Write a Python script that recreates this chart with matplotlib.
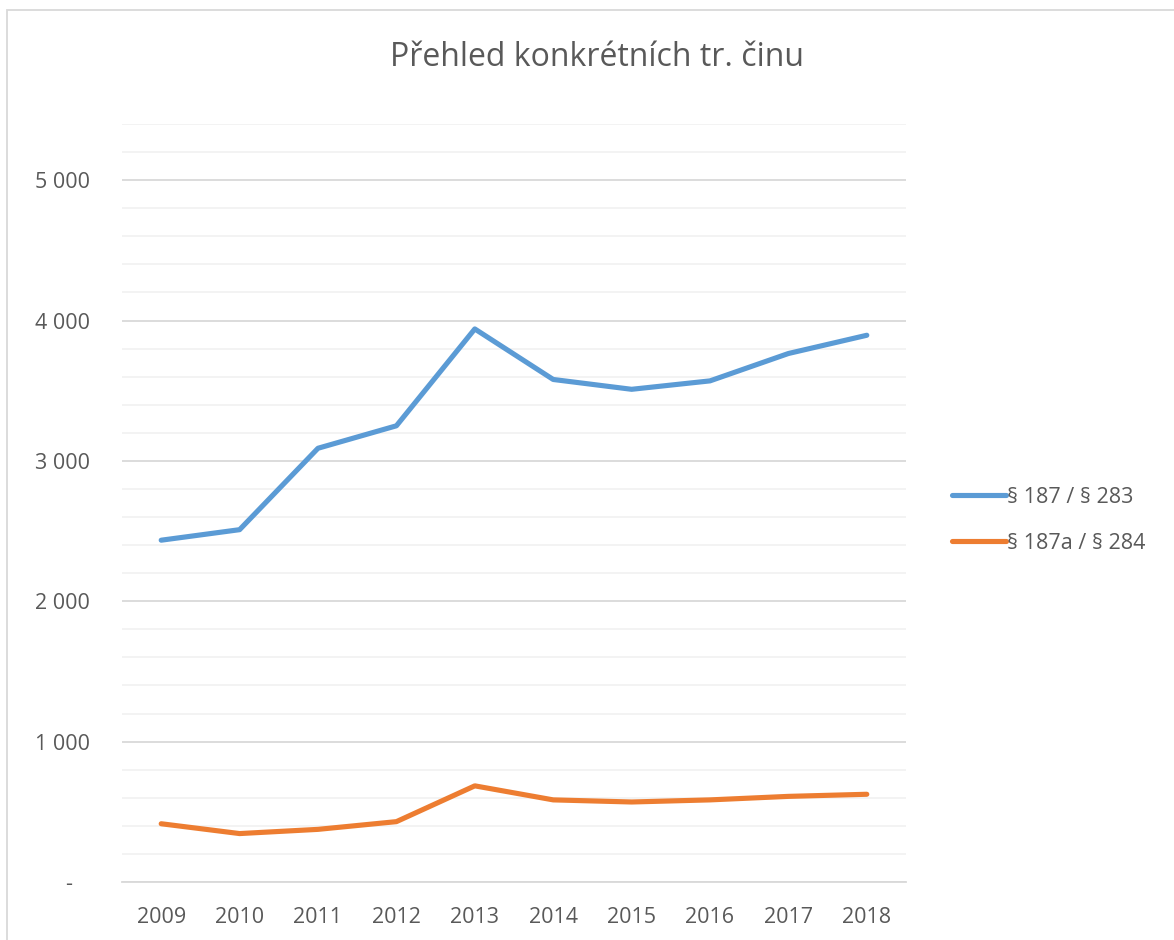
import matplotlib
matplotlib.use("Agg")
from matplotlib import pyplot as plt
from matplotlib.patches import Rectangle
from matplotlib.ticker import FixedLocator, MultipleLocator, FuncFormatter

plt.rcParams["font.family"] = ["Open Sans", "DejaVu Sans"]

years = ["2009", "2010", "2011", "2012", "2013", "2014", "2015", "2016", "2017", "2018"]
s187 = [2435, 2510, 3090, 3250, 3940, 3580, 3510, 3570, 3765, 3895]
s187a = [415, 345, 375, 430, 685, 585, 570, 585, 610, 625]
series_names = ["§ 187 / § 283", "§ 187a / § 284"]

text_col = "#595959"

fig = plt.figure(figsize=(11.74, 9.4), dpi=100)
ax = fig.add_axes([122 / 1174, 1 - 882 / 940, 784 / 1174, 758 / 940])

x = range(len(years))
ax.plot(x, s187, color="#5b9bd5", lw=3.7, solid_capstyle="round",
        solid_joinstyle="round", label=series_names[0], zorder=3)
ax.plot(x, s187a, color="#ed7d31", lw=3.7, solid_capstyle="round",
        solid_joinstyle="round", label=series_names[1], zorder=3)

ax.set_xlim(-0.5, len(years) - 0.5)
ax.set_ylim(0, 5400)
ax.set_xticks(list(x))
ax.set_xticklabels(years)
ax.yaxis.set_major_locator(FixedLocator([0, 1000, 2000, 3000, 4000, 5000]))
ax.yaxis.set_minor_locator(MultipleLocator(200))


def fmt(v, pos):
    if v == 0:
        return "-   "
    return f"{int(v):,}".replace(",", " ")


ax.yaxis.set_major_formatter(FuncFormatter(fmt))
ax.grid(which="major", axis="y", color="#d9d9d9", lw=1.3, zorder=0)
ax.grid(which="minor", axis="y", color="#f2f2f2", lw=1.3, zorder=0)
ax.set_axisbelow(True)
for s in ["top", "right", "left"]:
    ax.spines[s].set_visible(False)
ax.spines["bottom"].set_color("#d9d9d9")
ax.spines["bottom"].set_linewidth(1.3)
ax.tick_params(axis="both", which="both", length=0, labelsize=15.5, labelcolor=text_col)
ax.tick_params(axis="y", pad=23)
ax.tick_params(axis="x", pad=18)

fig.text(597 / 1174, 1 - 57 / 940, "Přehled konkrétních tr. činu", ha="center",
         va="center", fontsize=23, color=text_col)

leg = fig.legend(loc="upper left", bbox_to_anchor=(941 / 1174, 1 - 476 / 940),
                 frameon=False, fontsize=15.5, handlelength=2.5, handletextpad=0.05,
                 labelspacing=1.15, borderpad=0)
for t in leg.get_texts():
    t.set_color(text_col)

# chart frame
fig.patches.append(Rectangle((7 / 1174, -0.1), 1.2, 1.1 - 10 / 940,
                             transform=fig.transFigure, fill=False,
                             edgecolor="#d9d9d9", lw=1.3))

fig.savefig("out.png", dpi=100)
